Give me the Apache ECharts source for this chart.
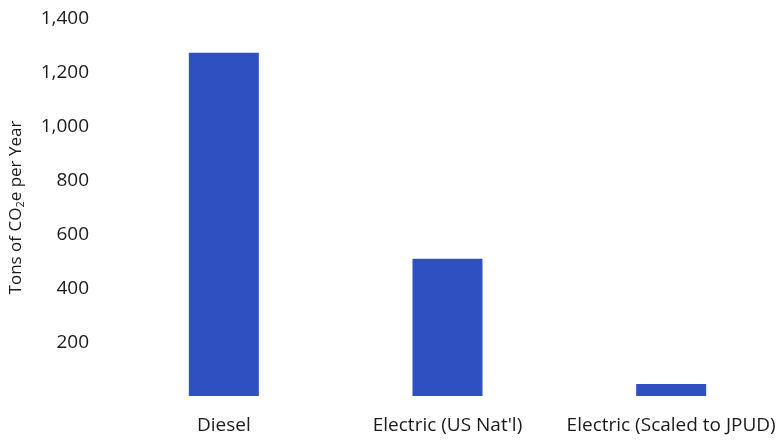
<!DOCTYPE html>
<html>
<head>
<meta charset="utf-8">
<script src="https://cdn.jsdelivr.net/npm/echarts@6/dist/echarts.min.js"></script>
<style>
  html, body { margin: 0; padding: 0; background: #ffffff; }
  #chart { width: 783px; height: 440px; }
</style>
</head>
<body>
<div id="chart"></div>
<script>
// Annual emissions by vehicle type
const categories = ['Diesel', 'Electric (US Nat\'l)', 'Electric (Scaled to JPUD)'];
const emissions = [1275, 510, 45];

const FONT = '"Open Sans", "Liberation Sans", sans-serif';

const chart = echarts.init(document.getElementById('chart'));
chart.setOption({
  animation: false,
  backgroundColor: '#ffffff',
  grid: { left: 106, right: 0, top: 19, bottom: 44 },
  xAxis: {
    type: 'category',
    data: categories,
    axisLine: { show: false },
    axisTick: { show: false },
    axisLabel: { color: '#1a1a1a', fontFamily: FONT, fontSize: 19, margin: 20, interval: 0 }
  },
  yAxis: {
    type: 'value',
    min: 0,
    max: 1400,
    interval: 200,
    name: 'Tons of CO{sub|2}e per Year',
    nameLocation: 'middle',
    nameGap: 86,
    nameTextStyle: {
      color: '#1a1a1a', fontFamily: FONT, fontSize: 17,
      rich: { sub: { fontFamily: FONT, fontSize: 11, color: '#1a1a1a', padding: [8, 0, 0, 0] } }
    },
    axisLine: { show: false },
    axisTick: { show: false },
    splitLine: { show: false },
    axisLabel: {
      color: '#1a1a1a', fontFamily: FONT, fontSize: 19, margin: 23,
      formatter: v => v === 0 ? '' : v.toLocaleString('en-US')
    }
  },
  series: [{
    type: 'bar',
    data: emissions,
    barWidth: 70,
    itemStyle: { color: '#2e50c0' }
  }]
});
</script>
</body>
</html>
